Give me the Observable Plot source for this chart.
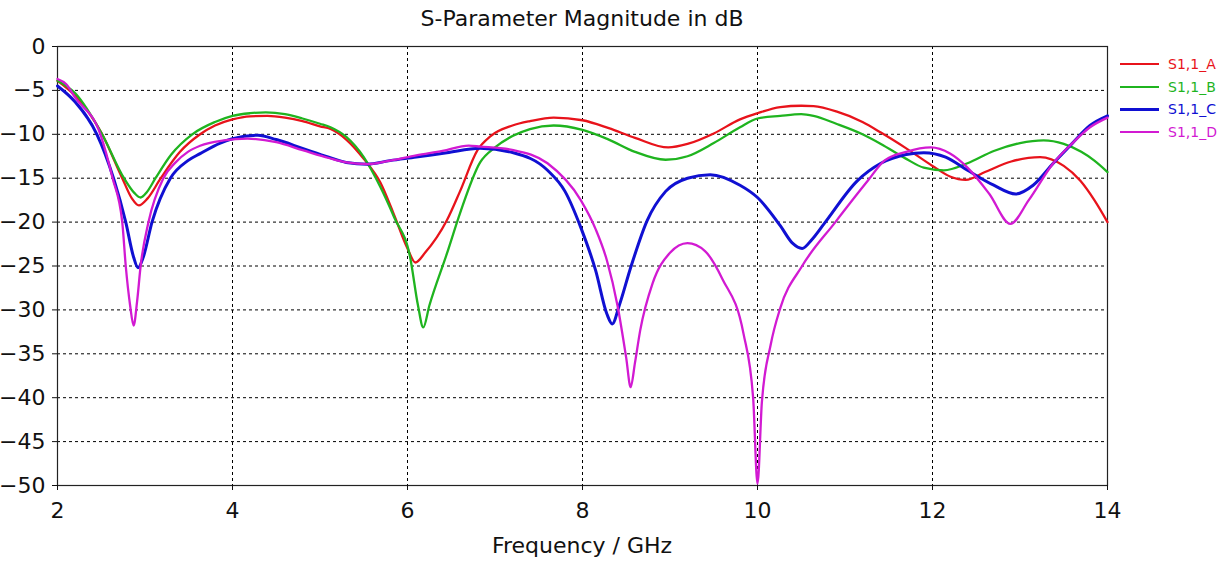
<!DOCTYPE html>
<html>
<head>
<meta charset="utf-8">
<script src="https://cdn.jsdelivr.net/npm/d3@7"></script>
<script src="https://cdn.jsdelivr.net/npm/@observablehq/plot@0.6"></script>
<style>
  html, body { margin: 0; padding: 0; background: #fff; }
  #wrap { position: relative; width: 1224px; height: 562px; font-family: "DejaVu Sans", Verdana, sans-serif; color: #111; }
  #chart { position: absolute; left: 0; top: 0; }
  #title { position: absolute; left: 0; top: 8px; width: 1164px; text-align: center; font-size: 22px; line-height: 22px; white-space: nowrap; }
  #xlabel { position: absolute; left: 0; top: 535px; width: 1164px; text-align: center; font-size: 22px; line-height: 22px; white-space: nowrap; }
  #legend { position: absolute; left: 1120px; top: 53px; font-size: 14px; }
  .row { display: flex; align-items: center; height: 22.5px; }
  .sw { width: 39px; margin-right: 9px; }
</style>
</head>
<body>
<div id="wrap">
  <div id="chart"></div>
  <div id="title">S-Parameter Magnitude in dB</div>
  <div id="xlabel">Frequency / GHz</div>
  <div id="legend"></div>
</div>
<script>
const seriesNames = ["S1,1_A", "S1,1_B", "S1,1_C", "S1,1_D"];
const seriesColors = ["#e8131b", "#1fb41f", "#1010d2", "#d21ad2"];
const seriesWidths = [2.3, 2.3, 3, 2.3];
const xTicks = [2, 4, 6, 8, 10, 12, 14];
const yTicks = [0, -5, -10, -15, -20, -25, -30, -35, -40, -45, -50];

const freqA = [2.0, 2.2, 2.5, 2.74, 2.85, 2.93, 3.03, 3.18, 3.4, 3.63, 3.8, 4.0, 4.2, 4.4, 4.6, 4.8, 5.0, 5.12, 5.3, 5.5, 5.69, 5.84, 6.0, 6.09, 6.2, 6.45, 6.6, 6.8, 6.95, 7.2, 7.4, 7.67, 8.0, 8.3, 8.6, 8.98, 9.2, 9.5, 9.8, 10.0, 10.26, 10.5, 10.64, 10.9, 11.2, 11.41, 11.7, 12.0, 12.2, 12.38, 12.6, 12.9, 13.23, 13.5, 13.69, 13.85, 14.0];
const dbA   = [-3.9, -5.6, -9.8, -15.0, -17.3, -18.1, -17.3, -15.0, -12.0, -10.0, -9.0, -8.3, -7.95, -7.9, -8.1, -8.5, -9.1, -9.4, -10.6, -12.8, -15.5, -19.0, -23.0, -24.6, -23.5, -19.8, -16.5, -11.8, -10.2, -9.0, -8.5, -8.1, -8.4, -9.3, -10.4, -11.5, -11.1, -9.9, -8.3, -7.6, -6.9, -6.75, -6.8, -7.4, -8.6, -9.8, -11.6, -13.6, -14.8, -15.2, -14.3, -13.1, -12.6, -13.6, -15.3, -17.5, -20.0];

const freqB = [2.0, 2.2, 2.51, 2.76, 2.88, 2.95, 3.02, 3.12, 3.3, 3.54, 3.8, 4.0, 4.2, 4.38, 4.6, 4.8, 5.0, 5.12, 5.3, 5.5, 5.69, 5.85, 6.03, 6.12, 6.18, 6.25, 6.45, 6.6, 6.83, 7.0, 7.2, 7.4, 7.67, 8.0, 8.3, 8.6, 8.95, 9.2, 9.5, 9.8, 10.0, 10.26, 10.5, 10.64, 10.9, 11.2, 11.41, 11.7, 11.9, 12.13, 12.4, 12.7, 13.0, 13.27, 13.5, 13.7, 13.85, 14.0];
const dbB   = [-3.9, -5.3, -10.0, -15.0, -16.7, -17.2, -16.6, -15.0, -12.3, -10.0, -8.6, -7.9, -7.6, -7.5, -7.7, -8.2, -8.8, -9.2, -10.3, -12.6, -16.0, -19.5, -24.0, -29.5, -32.0, -29.5, -23.6, -19.0, -13.2, -11.5, -10.2, -9.4, -9.0, -9.5, -10.6, -12.0, -12.9, -12.5, -11.0, -9.2, -8.2, -7.9, -7.7, -7.9, -8.8, -10.0, -11.1, -12.8, -13.8, -14.1, -13.3, -11.9, -11.0, -10.7, -11.1, -12.0, -13.0, -14.3];

const freqC = [2.0, 2.2, 2.45, 2.64, 2.78, 2.87, 2.92, 2.98, 3.08, 3.29, 3.49, 3.63, 3.86, 4.0, 4.29, 4.5, 4.8, 5.1, 5.3, 5.54, 5.8, 6.1, 6.45, 6.83, 7.21, 7.6, 7.8, 7.98, 8.15, 8.28, 8.34, 8.42, 8.55, 8.74, 8.95, 9.2, 9.46, 9.8, 10.0, 10.26, 10.4, 10.51, 10.62, 10.76, 11.14, 11.41, 11.7, 11.9, 12.15, 12.4, 12.7, 12.95, 13.15, 13.38, 13.6, 13.8, 14.0];
const dbC   = [-4.5, -6.3, -10.0, -15.0, -20.0, -24.0, -25.2, -24.0, -20.0, -15.0, -13.0, -12.2, -11.0, -10.5, -10.1, -10.6, -11.6, -12.6, -13.2, -13.4, -13.0, -12.6, -12.1, -11.6, -12.1, -14.1, -16.5, -20.6, -25.5, -30.5, -31.6, -29.5, -25.2, -19.8, -16.5, -15.0, -14.6, -15.8, -17.2, -20.4, -22.4, -23.0, -22.0, -20.2, -15.3, -13.3, -12.3, -12.1, -12.6, -14.1, -15.8, -16.8, -15.8, -13.3, -11.0, -9.0, -7.9];

const freqD = [2.0, 2.1, 2.2, 2.49, 2.63, 2.74, 2.78, 2.83, 2.87, 2.91, 2.95, 3.04, 3.21, 3.35, 3.49, 3.63, 3.9, 4.17, 4.5, 4.8, 5.1, 5.3, 5.54, 5.8, 6.1, 6.4, 6.7, 6.83, 7.21, 7.6, 7.98, 8.15, 8.28, 8.4, 8.5, 8.55, 8.6, 8.66, 8.8, 9.0, 9.2, 9.4, 9.6, 9.84, 9.95, 10.0, 10.05, 10.15, 10.26, 10.51, 10.89, 11.26, 11.45, 11.7, 11.98, 12.2, 12.4, 12.65, 12.89, 13.1, 13.38, 13.6, 13.8, 14.0];
const dbD   = [-3.7, -4.3, -5.8, -10.0, -15.0, -20.0, -25.0, -29.5, -31.8, -29.0, -25.0, -20.0, -15.0, -13.2, -12.0, -11.3, -10.7, -10.5, -10.9, -11.8, -12.7, -13.2, -13.4, -13.0, -12.4, -11.9, -11.3, -11.4, -11.8, -13.3, -17.5, -20.8, -24.4, -29.5, -35.5, -38.8, -36.0, -32.3, -27.0, -23.5, -22.4, -23.3, -26.5, -32.7, -40.0, -49.8, -40.5, -34.0, -29.8, -25.0, -20.0, -15.3, -13.0, -12.0, -11.5, -12.2, -13.8, -16.8, -20.2, -17.5, -13.3, -11.0, -9.2, -8.1];

const freqs = [freqA, freqB, freqC, freqD];
const dbs = [dbA, dbB, dbC, dbD];

const rows = [];
seriesNames.forEach((name, i) => {
  freqs[i].forEach((f, j) => rows.push({series: name, f, db: dbs[i][j]}));
});

const marks = [
  Plot.gridX(xTicks.slice(1, -1), {stroke: "#000", strokeOpacity: 1, strokeDasharray: "3,3", strokeWidth: 1}),
  Plot.gridY(yTicks.slice(1, -1), {stroke: "#000", strokeOpacity: 1, strokeDasharray: "3,3", strokeWidth: 1}),
  Plot.frame({stroke: "#222", strokeWidth: 1.2}),
  Plot.axisX(xTicks, {tickSize: 5, tickPadding: 12, fontSize: 22, label: null}),
  Plot.axisY(yTicks, {tickSize: 5, tickPadding: 7, fontSize: 22, label: null}),
];
seriesNames.forEach((name, i) => {
  marks.push(Plot.line(rows.filter(d => d.series === name), {
    x: "f", y: "db", stroke: seriesColors[i], strokeWidth: seriesWidths[i], curve: "monotone-x"
  }));
});

const chart = Plot.plot({
  width: 1224,
  height: 562,
  marginLeft: 57,
  marginRight: 117,
  marginTop: 46,
  marginBottom: 77,
  style: {fontFamily: "DejaVu Sans, Verdana, sans-serif", color: "#111", background: "#fff"},
  x: {domain: [2, 14], label: null},
  y: {domain: [-50, 0], label: null},
  marks
});
document.getElementById("chart").appendChild(chart);

const legend = document.getElementById("legend");
seriesNames.forEach((name, i) => {
  const row = document.createElement("div");
  row.className = "row";
  const sw = document.createElement("div");
  sw.className = "sw";
  sw.style.borderTop = `${seriesWidths[i]}px solid ${seriesColors[i]}`;
  const t = document.createElement("span");
  t.textContent = name;
  t.style.color = seriesColors[i];
  row.appendChild(sw);
  row.appendChild(t);
  legend.appendChild(row);
});
</script>
</body>
</html>
